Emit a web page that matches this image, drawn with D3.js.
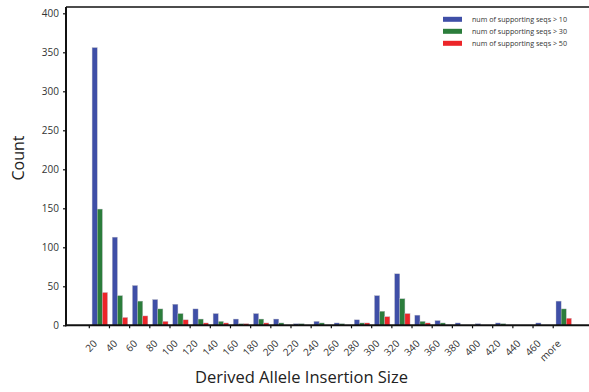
<!DOCTYPE html>
<html><head><meta charset="utf-8">
<script src="https://cdn.jsdelivr.net/npm/d3@7"></script>
<style>body{margin:0;background:#fff}svg{display:block}text{font-family:"Open Sans",sans-serif}</style>
</head><body><svg id="c" width="589" height="392"></svg>
<script>
const categories = ["20","40","60","80","100","120","140","160","180","200","220","240","260","280","300","320","340","360","380","400","420","440","460","more"];
const seriesNames = ["num of supporting seqs > 10","num of supporting seqs > 30","num of supporting seqs > 50"];
const seqs10 = [356,113,51,33,27,21,15,8,15,8,2,5,3,7,38,66,13,6,3,2,3,0,3,31];
const seqs30 = [149,38,31,21,15,8,5,2,8,3,2,3,2,3,18,34,5,3,0,0,2,0,0,21];
const seqs50 = [42,10,12,5,7,3,3,2,3,0,0,0,0,3,11,15,3,0,0,0,0,0,0,9];
const yTicks = [0,50,100,150,200,250,300,350,400];
const colors = ["#3f4fa7","#2b7d3b","#ec2529"];

const svg = d3.select("#c");
const mLeft = 66, mTop = 7, mBottom = 325.3;
const step = 20.17, firstTick = 89.3;
const x = d3.scaleBand().domain(categories).range([firstTick, firstTick + step*categories.length]).paddingInner(0);
const xTick = x.copy().range([firstTick - step/2, firstTick - step/2 + step*categories.length]);
const y = d3.scaleLinear().domain([0,400]).range([mBottom, 13.3]);

// bars
const sub = d3.scaleBand().domain([0,1,2]).range([2.8, 18.2]).paddingInner(0);
const data = [seqs10, seqs30, seqs50];
data.forEach((vals, si) => {
  svg.append("g").selectAll("rect").data(vals).join("rect")
    .attr("x", (d,i) => x(categories[i]) + sub(si))
    .attr("width", sub.bandwidth())
    .attr("y", d => y(d))
    .attr("height", d => mBottom - y(d))
    .attr("fill", colors[si])
    .attr("stroke", d => d > 0 ? "#b9b9c4" : "none")
    .attr("stroke-width", 0.4);
});

// frame (top border)
svg.append("line").attr("x1", mLeft).attr("x2", 589).attr("y1", mTop).attr("y2", mTop).attr("stroke","#111").attr("stroke-width",1.6);

// y axis
const yAxis = svg.append("g").attr("transform", `translate(${mLeft},0)`)
  .call(d3.axisLeft(y).tickValues(yTicks).tickSize(3).tickPadding(4).tickSizeOuter(0));
yAxis.select(".domain").attr("d", `M0,${mTop}V${mBottom+1}`).attr("stroke","#111").attr("stroke-width",2);
yAxis.selectAll(".tick line").attr("stroke","#111").attr("stroke-width",1.2);
yAxis.selectAll(".tick text").attr("font-size",10).attr("fill","#333").attr("font-family","Open Sans, sans-serif");

// x axis
const xAxis = svg.append("g").attr("transform", `translate(0,${mBottom})`)
  .call(d3.axisBottom(xTick).tickSize(3).tickSizeOuter(0));
xAxis.select(".domain").attr("d", `M${mLeft-1},0H589`).attr("stroke","#111").attr("stroke-width",2);
xAxis.selectAll(".tick line").attr("stroke","#111").attr("stroke-width",1.2);
xAxis.selectAll(".tick text")
  .attr("font-size",10).attr("fill","#333").attr("font-family","Open Sans, sans-serif")
  .attr("text-anchor","end").attr("dy",null).attr("y",null)
  .attr("transform","translate(8.5,19) rotate(-45)");

// axis titles
svg.append("text").attr("x", 301.5).attr("y", 383).attr("text-anchor","middle")
  .attr("font-size",16).attr("fill","#222").attr("textLength",213).attr("lengthAdjust","spacingAndGlyphs")
  .text("Derived Allele Insertion Size");
svg.append("text").attr("transform","translate(24,158) rotate(-90)").attr("text-anchor","middle")
  .attr("font-size",16).attr("fill","#222").text("Count");

// legend
const lg = svg.append("g");
seriesNames.forEach((n,i) => {
  const yy = 19.3 + i*12;
  lg.append("rect").attr("x",443).attr("y",yy-2.5).attr("width",19).attr("height",5).attr("fill",colors[i]);
  lg.append("text").attr("x",472).attr("y",yy+2.3).attr("font-size",7).attr("fill","#333")
    .attr("textLength",95).attr("lengthAdjust","spacingAndGlyphs").text(n);
});
</script></body></html>
